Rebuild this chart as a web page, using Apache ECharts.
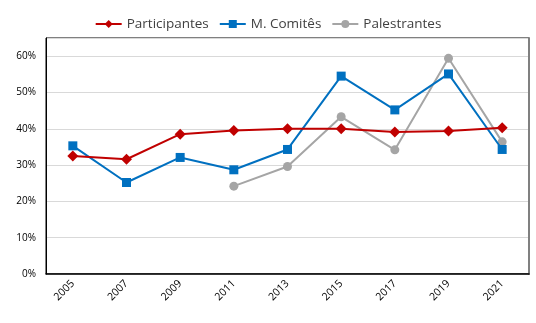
<!DOCTYPE html>
<html>
<head>
<meta charset="utf-8">
<script src="https://cdn.jsdelivr.net/npm/echarts@6/dist/echarts.min.js"></script>
<style>
  html, body { margin: 0; padding: 0; background: #fff; }
  #chart { width: 536px; height: 323px; }
</style>
</head>
<body>
<div id="chart"></div>
<script>
// dados
const years = ["2005", "2007", "2009", "2011", "2013", "2015", "2017", "2019", "2021"];
const participantes = [0.325, 0.316, 0.385, 0.395, 0.400, 0.400, 0.391, 0.394, 0.403];
const comites = [0.353, 0.252, 0.321, 0.287, 0.343, 0.545, 0.452, 0.551, 0.343];
const palestrantes = [null, null, null, 0.242, 0.296, 0.433, 0.342, 0.594, 0.364];

const FONT = "'Open Sans', 'DejaVu Sans', sans-serif";

const chart = echarts.init(document.getElementById("chart"), null, { renderer: "canvas" });

chart.setOption({
  animation: false,
  legend: {
    top: 12,
    left: "center",
    itemWidth: 26,
    itemHeight: 10,
    itemGap: 10,
    textStyle: { fontFamily: FONT, fontSize: 13.5, color: "#404040" },
    data: ["Participantes", "M. Comitês", "Palestrantes"],
  },
  grid: {
    left: 46,
    right: 7,
    top: 38,
    bottom: 49,
    show: true,
    borderColor: "#000",
    borderWidth: 1,
  },
  xAxis: {
    type: "category",
    data: years,
    boundaryGap: true,
    axisLine: { lineStyle: { color: "#000", width: 1.5 } },
    axisTick: { alignWithLabel: true, length: 4, lineStyle: { color: "#000" } },
    axisLabel: {
      rotate: 45,
      fontFamily: FONT,
      fontSize: 10.5,
      color: "#000",
      margin: 8,
    },
  },
  yAxis: [
    {
      type: "value",
      min: 0,
      max: 0.65,
      interval: 0.1,
      axisLine: { show: true, lineStyle: { color: "#000" } },
      axisTick: { show: false },
      splitLine: { lineStyle: { color: "#d9d9d9" } },
      axisLabel: {
        showMaxLabel: false,
        fontFamily: FONT,
        fontSize: 10,
        color: "#000",
        margin: 10,
        formatter: (v) => Math.round(v * 100) + "%",
      },
    },
    {
      type: "value",
      position: "right",
      min: 0,
      max: 0.65,
      axisLine: { show: true, lineStyle: { color: "#808080", width: 2 } },
      axisTick: { show: false },
      axisLabel: { show: false },
      splitLine: { show: false },
    },
  ],
  series: [
    {
      name: "Participantes",
      type: "line",
      data: participantes,
      symbol: "diamond",
      symbolSize: 11,
      lineStyle: { color: "#c00000", width: 2 },
      itemStyle: { color: "#c00000" },
      z: 3,
    },
    {
      name: "M. Comitês",
      type: "line",
      data: comites,
      symbol: "rect",
      symbolSize: 9,
      lineStyle: { color: "#0070c0", width: 2 },
      itemStyle: { color: "#0070c0" },
      z: 2,
    },
    {
      name: "Palestrantes",
      type: "line",
      data: palestrantes,
      symbol: "circle",
      symbolSize: 9,
      lineStyle: { color: "#a5a5a5", width: 2 },
      itemStyle: { color: "#a5a5a5" },
      z: 1,
    },
  ],
});
</script>
</body>
</html>
